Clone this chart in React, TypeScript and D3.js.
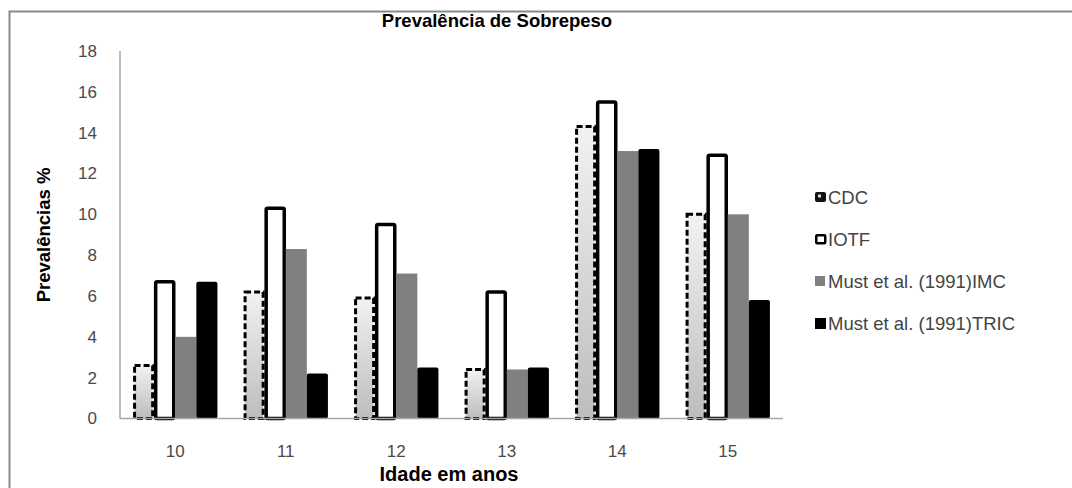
import React from "react";
import * as d3 from "d3";

const categories = ["10", "11", "12", "13", "14", "15"];
const seriesNames = ["CDC", "IOTF", "Must et al. (1991)IMC", "Must et al. (1991)TRIC"];
const cdc = [2.6, 6.2, 5.9, 2.4, 14.3, 10.0];
const iotf = [6.7, 10.3, 9.5, 6.2, 15.5, 12.9];
const imc = [4.0, 8.3, 7.1, 2.4, 13.1, 10.0];
const tric = [6.7, 2.2, 2.5, 2.5, 13.2, 5.8];
const yTicks = [0, 2, 4, 6, 8, 10, 12, 14, 16, 18];

const W = 1072;
const H = 488;
const plot = { left: 120, right: 783, top: 51, bottom: 418.5 };
const FONT = "Arial, 'Liberation Sans', sans-serif";

export default function App() {
  const x0 = d3.scaleBand<string>().domain(categories).range([plot.left, plot.right]).padding(0);
  const x1 = d3
    .scaleBand<number>()
    .domain([0, 1, 2, 3])
    .range([0, x0.bandwidth()])
    .paddingInner(0)
    .paddingOuter(0.62);
  const y = d3.scaleLinear().domain([0, 18]).range([plot.bottom, plot.top]);
  const bw = x1.bandwidth();

  const legendY = [197, 239, 281, 323];
  const mx = 815;

  return (
    <svg
      width={W}
      height={H}
      style={{ position: "absolute", left: 0, top: 0, background: "#fff" }}
      fontFamily={FONT}
    >
      <defs>
        <linearGradient id="cdcGrad" x1="0" y1="0" x2="0" y2="1">
          <stop offset="0%" stopColor="#f2f2f2" />
          <stop offset="100%" stopColor="#bdbdbd" />
        </linearGradient>
      </defs>
      <rect x={0} y={0} width={W} height={H} fill="#fff" />
      {/* frame */}
      <path d={`M9.5,${H + 5} V11.5 H${W + 5}`} fill="none" stroke="#8a8a8a" strokeWidth={2} />

      {/* title */}
      <text x={497} y={27} textAnchor="middle" fontSize={18.5} fontWeight="bold" fill="#000">
        Prevalência de Sobrepeso
      </text>

      {/* y ticks */}
      {yTicks.map((t) => (
        <text key={t} x={97} y={y(t)} dy="0.35em" textAnchor="end" fontSize={17} fill="#4a4a4a">
          {t}
        </text>
      ))}
      {/* y axis */}
      <line x1={plot.left} x2={plot.left} y1={plot.top} y2={plot.bottom} stroke="#a6a6a6" strokeWidth={1.5} />

      {/* bars */}
      {categories.map((c, ci) => {
        const gx = x0(c)!;
        return (
          <g key={c}>
            <rect
              x={gx + x1(0)! + 1.5}
              y={y(cdc[ci])}
              width={bw - 3}
              height={plot.bottom - y(cdc[ci])}
              fill="url(#cdcGrad)"
              stroke="#000"
              strokeWidth={3}
              strokeDasharray="6,3"
            />
            <rect
              x={gx + x1(1)! + 1.5}
              y={y(iotf[ci])}
              width={bw - 3}
              height={plot.bottom - y(iotf[ci])}
              fill="#fff"
              stroke="#000"
              strokeWidth={3.5}
              rx={1.5}
            />
            <rect
              x={gx + x1(2)!}
              y={y(imc[ci])}
              width={bw}
              height={plot.bottom - y(imc[ci])}
              fill="#808080"
            />
            <rect
              x={gx + x1(3)!}
              y={y(tric[ci])}
              width={bw}
              height={plot.bottom - y(tric[ci])}
              fill="#000"
              rx={2}
            />
          </g>
        );
      })}

      {/* x axis */}
      <line x1={plot.left} x2={plot.right} y1={plot.bottom} y2={plot.bottom} stroke="#a6a6a6" strokeWidth={1.5} />

      {/* x tick labels */}
      {categories.map((c) => (
        <text key={c} x={x0(c)! + x0.bandwidth() / 2} y={457} textAnchor="middle" fontSize={17} fill="#4a4a4a">
          {c}
        </text>
      ))}

      {/* axis titles */}
      <text x={449} y={481} textAnchor="middle" fontSize={20} fontWeight="bold" fill="#000">
        Idade em anos
      </text>
      <text
        transform={`translate(50,235) rotate(-90)`}
        textAnchor="middle"
        fontSize={18.5}
        fontWeight="bold"
        fill="#000"
      >
        Prevalências %
      </text>

      {/* legend */}
      {seriesNames.map((s, i) => {
        const ly = legendY[i];
        return (
          <g key={s}>
            {i === 0 && (
              <g>
                <rect x={mx} y={ly - 5} width={11} height={10} fill="#111" rx={2} />
                <rect x={mx + 3} y={ly - 2.5} width={3} height={3} fill="#ddd" />
              </g>
            )}
            {i === 1 && <rect x={mx + 1.25} y={ly - 3.75} width={9} height={8} fill="#fff" stroke="#000" strokeWidth={2.5} rx={1} />}
            {i === 2 && <rect x={mx} y={ly - 5} width={10} height={10} fill="#808080" />}
            {i === 3 && <rect x={mx} y={ly - 5} width={11} height={11} fill="#000" />}
            <text x={mx + 13} y={ly} dy="0.36em" fontSize={18.5} fill="#444">
              {s}
            </text>
          </g>
        );
      })}
    </svg>
  );
}
